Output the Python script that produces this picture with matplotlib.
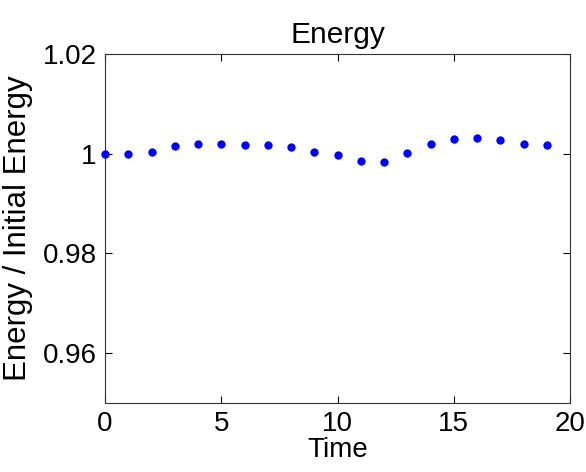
import matplotlib
matplotlib.use("Agg")
import matplotlib.pyplot as plt

time = list(range(20))
energy = [1.0000, 1.0000, 1.0004, 1.0016, 1.0020, 1.0020, 1.0018, 1.0018, 1.0014, 1.0004,
          0.9998, 0.9986, 0.9984, 1.0002, 1.0020, 1.0029, 1.0031, 1.0027, 1.0020, 1.0018]
xticks = [0, 5, 10, 15, 20]
yticks = [0.96, 0.98, 1.0, 1.02]
ytick_labels = ['0.96', '0.98', '1', '1.02']

plt.rcParams['font.family'] = ['Liberation Sans', 'DejaVu Sans']

fig = plt.figure(figsize=(5.86, 4.72), dpi=100)
ax = fig.add_axes([105/586, 1-403/472, (570-105)/586, (403-54)/472])
ax.plot(time, energy, 'o', color='#0000ff', markersize=6, markeredgewidth=0, clip_on=False, zorder=3)
ax.set_xlim(0, 20)
ax.set_ylim(0.95, 1.02)
ax.set_xticks(xticks)
ax.set_xticklabels([str(v) for v in xticks])
ax.set_yticks(yticks)
ax.set_yticklabels(ytick_labels)
ax.tick_params(direction='in', top=True, right=True, labelsize=20, length=5, width=0.8, pad=6)
for s in ax.spines.values():
    s.set_linewidth(0.8)
    s.set_color('#333333')
ax.set_xlabel('Time', fontsize=20, labelpad=0)
ax.set_ylabel('Energy / Initial Energy', fontsize=22.5, labelpad=7)
ax.set_title('Energy', fontsize=21.5, pad=8)
fig.savefig('out.png', dpi=100)
